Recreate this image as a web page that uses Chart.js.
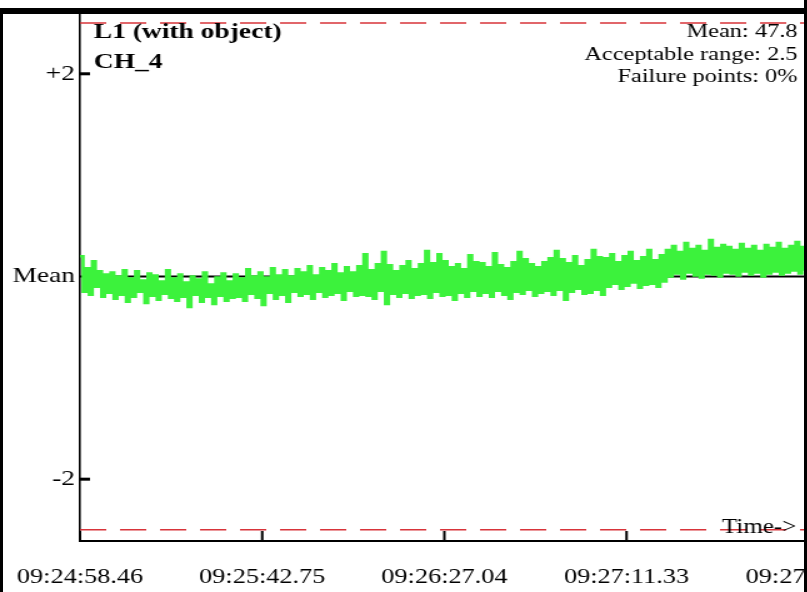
<!DOCTYPE html>
<html>
<head>
<meta charset="utf-8">
<script src="https://cdn.jsdelivr.net/npm/chart.js@4"></script>
<style>
  html, body { margin: 0; padding: 0; background: #fff; overflow: hidden; }
  #wrap { position: relative; width: 807px; height: 592px; overflow: hidden; background: #fff; }
  #chart { position: absolute; left: 0; top: 0; transform: scaleX(1.25); transform-origin: 0 0; }
  .frame { position: absolute; background: #000; }
</style>
</head>
<body>
<div id="wrap">
  <canvas id="chart" width="717" height="592"></canvas>
  <div class="frame" style="left:0;top:8px;width:807px;height:6px"></div>
  <div class="frame" style="left:0;top:8px;width:3px;height:584px"></div>
  <div class="frame" style="left:804px;top:0;width:3px;height:592px"></div>
</div>
<script>
// time axis
const timeLabels = ["09:24:58.46", "09:25:42.75", "09:26:27.04", "09:27:11.33", "09:27:55.62"];
const timeTicks = [0, 44.29, 88.58, 132.87, 177.16];
const sampleDt = 0.75; // seconds between samples

// y axis (deviation from mean, in acceptable-range units)
const yTicks = [-2, 0, 2];
const yTickLabels = ["-2", "Mean", "+2"];
const limit = 2.5;

// CH_4 readings relative to the mean
const ch4 = [
  0.20, -0.15, 0.08, -0.18, 0.15, -0.10, 0.05, -0.20, 0.02, -0.16,
  0.04, -0.22, 0.00, -0.18, 0.06, -0.25, -0.02, -0.20, 0.05, -0.15, -0.04, -0.26, 0.03, -0.19, 0.01, -0.23, -0.05, -0.17, 0.06, -0.21,
  -0.02, -0.24, 0.02, -0.20, -0.06, -0.30, 0.00, -0.18, -0.03, -0.25, 0.04, -0.20, -0.08, -0.27, -0.01, -0.19, 0.03, -0.24, -0.05, -0.21,
  0.02, -0.20, -0.02, -0.24, 0.07, -0.17, 0.00, -0.21, 0.04, -0.28, -0.01, -0.16, 0.08, -0.22, 0.01, -0.18, 0.06, -0.25, 0.00, -0.15,
  0.07, -0.19, 0.04, -0.17, 0.10, -0.22, 0.01, -0.15, 0.08, -0.20, 0.05, -0.18, 0.12, -0.16, 0.03, -0.23, 0.09, -0.14, 0.04, -0.19,
  0.10, -0.18, 0.22, -0.19, 0.06, -0.22, 0.12, -0.14, 0.24, -0.27, 0.11, -0.17, 0.05, -0.20, 0.10, -0.16, 0.15, -0.21, 0.07, -0.18,
  0.12, -0.17, 0.25, -0.21, 0.13, -0.15, 0.22, -0.19, 0.15, -0.18, 0.09, -0.23, 0.12, -0.16, 0.07, -0.20, 0.21, -0.14, 0.14, -0.19,
  0.13, -0.16, 0.09, -0.20, 0.23, -0.14, 0.11, -0.18, 0.08, -0.22, 0.14, -0.15, 0.24, -0.17, 0.17, -0.13, 0.12, -0.19, 0.09, -0.16,
  0.14, -0.14, 0.18, -0.18, 0.25, -0.13, 0.17, -0.23, 0.13, -0.15, 0.20, -0.12, 0.10, -0.17, 0.16, -0.16, 0.26, -0.13, 0.19, -0.18,
  0.18, -0.10, 0.22, -0.07, 0.14, -0.12, 0.20, -0.09, 0.24, -0.06, 0.15, -0.11, 0.19, -0.08, 0.26, -0.07, 0.16, -0.10, 0.21, -0.05,
  0.26, 0.00, 0.30, 0.03, 0.24, -0.02, 0.33, 0.04, 0.27, 0.01, 0.30, -0.01, 0.25, 0.03, 0.36, 0.02, 0.28, 0.00, 0.31, 0.04,
  0.29, 0.03, 0.26, 0.01, 0.32, 0.05, 0.27, 0.02, 0.30, 0.04, 0.25, 0.00, 0.31, 0.03, 0.28, 0.05, 0.33, 0.02, 0.27, 0.04,
  0.30, 0.06, 0.34, 0.03, 0.29, 0.07, 0.35
];

const statLines = ["Mean: 47.8", "Acceptable range: 2.5", "Failure points: 0%"];

const xMax = timeTicks[timeTicks.length - 1];
const points = ch4.map((v, i) => ({ x: i * sampleDt, y: v }));
const flat = (v) => [{ x: 0, y: v }, { x: xMax, y: v }];

const serif = "'Liberation Serif', 'Times New Roman', serif";

// inward tick marks + the text inside the plot
const overlay = {
  id: "overlay",
  afterDraw(chart) {
    const { ctx, chartArea, scales } = chart;
    ctx.save();
    ctx.fillStyle = "#000";
    yTicks.forEach((v) => {
      if (v === 0) return;
      const py = scales.y.getPixelForValue(v);
      ctx.fillRect(chartArea.left, py - 1.5, 8, 3);
    });
    timeTicks.forEach((v) => {
      const px = scales.x.getPixelForValue(v);
      ctx.fillRect(px - 1, chartArea.bottom - 10, 2, 10);
    });

    ctx.textAlign = "left";
    ctx.font = "bold 22px " + serif;
    ctx.fillText("L1 (with object)", 75, 38);
    ctx.fillText("CH_4", 75, 68);

    ctx.textAlign = "right";
    ctx.font = "19.5px " + serif;
    statLines.forEach((t, i) => ctx.fillText(t, 638, 37 + i * 22.5));
    ctx.font = "20px " + serif;
    ctx.fillText("Time->", 637, 533);
    ctx.restore();
  }
};

new Chart(document.getElementById("chart"), {
  type: "line",
  data: {
    datasets: [
      { data: points, borderColor: "#3cf23c", borderWidth: 2.6, stepped: true, pointRadius: 0, order: 0 },
      { data: flat(0), borderColor: "#000", borderWidth: 2, pointRadius: 0, order: 1 },
      { data: flat(limit), borderColor: "#d8343a", borderWidth: 1.5, borderDash: [21, 11], pointRadius: 0, order: 2 },
      { data: flat(-limit), borderColor: "#d8343a", borderWidth: 1.5, borderDash: [21, 11], pointRadius: 0, order: 2 }
    ]
  },
  options: {
    responsive: false,
    animation: false,
    layout: { padding: { top: 14, right: 70, left: 0, bottom: 0 } },
    plugins: { legend: { display: false }, tooltip: { enabled: false } },
    scales: {
      x: {
        type: "linear",
        min: 0,
        max: xMax,
        afterBuildTicks: (s) => { s.ticks = timeTicks.map((v) => ({ value: v })); },
        afterFit: (s) => { s.height = 51; s.paddingLeft = 0; s.paddingRight = 0; },
        grid: { drawOnChartArea: false, drawTicks: false },
        border: { color: "#000", width: 2 },
        ticks: {
          autoSkip: false,
          maxRotation: 0,
          padding: 24,
          color: "#000",
          font: { family: serif, size: 21 },
          callback: (v, i) => timeLabels[i]
        }
      },
      y: {
        min: -2.61,
        max: 2.59,
        afterBuildTicks: (s) => { s.ticks = yTicks.map((v) => ({ value: v })); },
        afterFit: (s) => { s.width = 64; s.paddingTop = 0; s.paddingBottom = 0; },
        grid: { drawOnChartArea: false, drawTicks: false },
        border: { color: "#000", width: 1.6 },
        ticks: {
          padding: 4,
          color: "#000",
          font: { family: serif, size: 22 },
          callback: (v, i) => yTickLabels[i]
        }
      }
    }
  },
  plugins: [overlay]
});
</script>
</body>
</html>
